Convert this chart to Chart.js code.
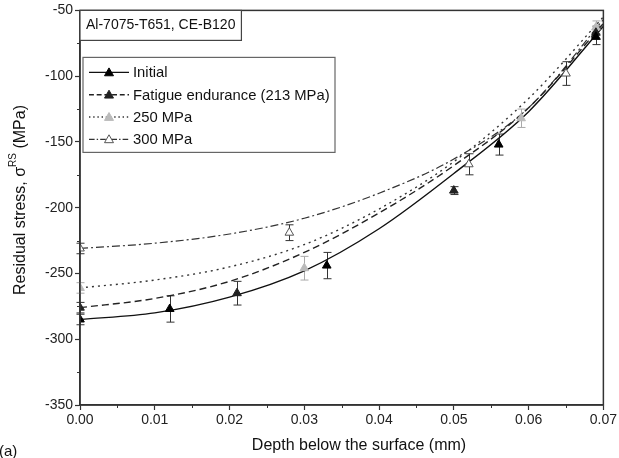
<!DOCTYPE html>
<html><head><meta charset="utf-8">
<script src="https://cdn.jsdelivr.net/npm/chart.js@4.4.1/dist/chart.umd.min.js"></script>
<style>html,body{margin:0;padding:0;background:#fff;overflow:hidden}#wrap{width:619px;height:458px;position:relative}</style>
</head><body><div id="wrap"><canvas id="c" width="619" height="458"></canvas></div>
<script>
// ---- data ----
const seriesNames = ['Initial', 'Fatigue endurance (213 MPa)', '250 MPa', '300 MPa'];
const fitDepth = [0, 0.01, 0.02, 0.03, 0.04, 0.05, 0.06, 0.07];
const fitInitial = [-285, -280, -268, -248, -216, -174, -127, -62];
const fitFatigue = [-276, -269, -256, -234, -204, -168, -124, -60];
const fit250 = [-261, -255, -245, -228, -201, -165, -117, -55];
const fit300 = [-231, -227, -220, -208, -189, -163, -124, -57];

const initialDepth = [0, 0.012, 0.033, 0.056, 0.069];
const initialStress = [-285, -277, -244, -152, -70];
const initialErr = [4, 10, 10, 8, 6];
const fatigueDepth = [0, 0.021, 0.050, 0.069];
const fatigueStress = [-276, -265, -187, -67];
const fatigueErr = [4, 9, 3, 5];
const s250Depth = [0, 0.030, 0.059, 0.069];
const s250Stress = [-261, -246, -132, -63];
const s250Err = [4, 9, 7, 5];
const s300Depth = [0, 0.028, 0.052, 0.065];
const s300Stress = [-231, -219, -167, -98];
const s300Err = [4, 6, 8, 9];

const xTickValues = [0, 0.01, 0.02, 0.03, 0.04, 0.05, 0.06, 0.07];
const yTickValues = [-350, -300, -250, -200, -150, -100, -50];
const boxLabel = 'Al-7075-T651, CE-B120';
const xTitle = 'Depth below the surface (mm)';
const panelLabel = '(a)';

// ---- styles ----
const FONT = '"Liberation Sans", Arial, sans-serif';
const styles = [
  {line: '#111', dash: [], marker: '#000', stroke: '#000', lw: 1.4},
  {line: '#222', dash: [7, 4], marker: '#222', stroke: '#222', lw: 1.4},
  {line: '#333', dash: [2, 4], marker: '#bbb', stroke: '#bbb', lw: 1.4},
  {line: '#333', dash: [8, 3, 2, 3], marker: '#fff', stroke: '#555', lw: 1.2}
];
const fits = [fitInitial, fitFatigue, fit250, fit300];
const pts = [[initialDepth, initialStress, initialErr], [fatigueDepth, fatigueStress, fatigueErr],
             [s250Depth, s250Stress, s250Err], [s300Depth, s300Stress, s300Err]];

const datasets = [];
fits.forEach((f, i) => {
  datasets.push({
    label: seriesNames[i] + ' fit',
    data: fitDepth.map((x, k) => ({x, y: f[k]})),
    showLine: true, pointRadius: 0, borderColor: styles[i].line, borderWidth: styles[i].lw,
    borderDash: styles[i].dash, cubicInterpolationMode: 'monotone', order: 2, fill: false
  });
});
pts.forEach((p, i) => {
  datasets.push({
    label: seriesNames[i],
    data: p[0].map((x, k) => ({x, y: p[1][k]})),
    errs: p[2], errColor: i === 2 ? '#aaa' : '#333',
    showLine: false, pointStyle: 'triangle', pointRadius: 5, pointHoverRadius: 5,
    backgroundColor: styles[i].marker, borderColor: styles[i].stroke, borderWidth: 1, order: 0
  });
});

const deco = {
  id: 'deco',
  beforeDatasetsDraw(chart) {
    const ctx = chart.ctx, xs = chart.scales.x, ys = chart.scales.y;
    ctx.save();
    chart.data.datasets.forEach(ds => {
      if (!ds.errs) return;
      ctx.strokeStyle = ds.errColor; ctx.lineWidth = 1;
      ds.data.forEach((d, k) => {
        const e = ds.errs[k];
        const px = Math.round(xs.getPixelForValue(d.x)) + 0.5;
        const y1 = ys.getPixelForValue(d.y + e), y2 = ys.getPixelForValue(d.y - e);
        ctx.beginPath();
        ctx.moveTo(px, y1); ctx.lineTo(px, y2);
        ctx.moveTo(px - 4, y1); ctx.lineTo(px + 4, y1);
        ctx.moveTo(px - 4, y2); ctx.lineTo(px + 4, y2);
        ctx.stroke();
      });
    });
    ctx.restore();
  },
  afterDraw(chart) {
    const ctx = chart.ctx, a = chart.chartArea, xs = chart.scales.x, ys = chart.scales.y;
    ctx.save();
    // frame
    ctx.strokeStyle = '#333'; ctx.lineWidth = 1.5;
    ctx.strokeRect(a.left, a.top, a.right - a.left, a.bottom - a.top);
    // minor ticks
    ctx.lineWidth = 1;
    for (let i = 0; i < yTickValues.length - 1; i++) {
      const py = Math.round(ys.getPixelForValue((yTickValues[i] + yTickValues[i + 1]) / 2)) + 0.5;
      ctx.beginPath(); ctx.moveTo(a.left - 3, py); ctx.lineTo(a.left, py); ctx.stroke();
    }
    for (let i = 0; i < xTickValues.length - 1; i++) {
      const px = Math.round(xs.getPixelForValue((xTickValues[i] + xTickValues[i + 1]) / 2)) + 0.5;
      ctx.beginPath(); ctx.moveTo(px, a.bottom); ctx.lineTo(px, a.bottom + 3); ctx.stroke();
    }
    // material box
    ctx.font = '14px ' + FONT;
    const bw = ctx.measureText(boxLabel).width + 12;
    ctx.fillStyle = '#fff';
    ctx.fillRect(a.left, a.top, bw, 30);
    ctx.strokeStyle = '#444'; ctx.lineWidth = 1.2;
    ctx.strokeRect(a.left, a.top, bw, 30);
    ctx.fillStyle = '#111'; ctx.textBaseline = 'middle'; ctx.textAlign = 'left';
    ctx.fillText(boxLabel, a.left + 6, a.top + 15);
    // legend
    const lx = a.left + 3, ly = a.top + 47, lw = 252, lh = 95;
    ctx.fillStyle = '#fff'; ctx.fillRect(lx, ly, lw, lh);
    ctx.strokeStyle = '#666'; ctx.lineWidth = 1.2; ctx.strokeRect(lx, ly, lw, lh);
    seriesNames.forEach((n, i) => {
      const ry = ly + 15 + i * 22.3;
      const st = styles[i];
      ctx.strokeStyle = st.line; ctx.lineWidth = st.lw; ctx.setLineDash(st.dash.length ? st.dash.map(v => v * 0.7) : []);
      ctx.beginPath(); ctx.moveTo(lx + 6, ry); ctx.lineTo(lx + 46, ry); ctx.stroke();
      ctx.setLineDash([]);
      const cx = lx + 26, r = 4.5;
      ctx.beginPath();
      ctx.moveTo(cx, ry - r); ctx.lineTo(cx + r, ry + r * 0.75); ctx.lineTo(cx - r, ry + r * 0.75); ctx.closePath();
      ctx.fillStyle = st.marker; ctx.fill();
      ctx.strokeStyle = st.stroke; ctx.lineWidth = 1; ctx.stroke();
      ctx.fillStyle = '#111'; ctx.font = '14.8px ' + FONT;
      ctx.fillText(n, lx + 50, ry + 1);
    });
    // x title
    ctx.font = '16px ' + FONT; ctx.textAlign = 'center'; ctx.fillStyle = '#111';
    ctx.fillText(xTitle, 359, 446);
    // panel label
    ctx.font = '15px ' + FONT;
    ctx.textAlign = 'left'; ctx.fillText(panelLabel, -1, 452);
    // y title with superscript
    ctx.translate(21, 200); ctx.rotate(-Math.PI / 2);
    const p1 = 'Residual stress, \u03C3', p2 = 'RS', p3 = ' (MPa)';
    ctx.font = '16px ' + FONT;
    const w1 = ctx.measureText(p1).width, w3 = ctx.measureText(p3).width;
    ctx.font = '10px ' + FONT; const w2 = ctx.measureText(p2).width;
    let x0 = -(w1 + w2 + w3) / 2;
    ctx.font = '16px ' + FONT; ctx.textAlign = 'left';
    ctx.fillText(p1, x0, 0);
    ctx.font = '10px ' + FONT; ctx.fillText(p2, x0 + w1, -8);
    ctx.font = '16px ' + FONT; ctx.fillText(p3, x0 + w1 + w2, 0);
    ctx.restore();
  }
};

new Chart(document.getElementById('c'), {
  type: 'scatter',
  data: {datasets},
  options: {
    responsive: false, animation: false, events: [],
    layout: {padding: {top: 8, right: 13, left: 0, bottom: 0}},
    plugins: {legend: {display: false}, tooltip: {enabled: false}},
    scales: {
      x: {
        type: 'linear', min: 0, max: 0.07,
        afterBuildTicks: s => { s.ticks = xTickValues.map(v => ({value: v})); },
        afterFit: s => { s.height = 53; },
        ticks: {callback: v => Number(v).toFixed(2), font: {family: FONT, size: 14}, color: '#222', padding: 2, maxRotation: 0, autoSkip: false},
        grid: {drawOnChartArea: false, tickLength: 5, tickColor: '#333', tickWidth: 1.2},
        border: {color: '#333', width: 1.5}
      },
      y: {
        min: -350, max: -50,
        afterBuildTicks: s => { s.ticks = yTickValues.map(v => ({value: v})); },
        afterFit: s => { s.width = 80; },
        ticks: {font: {family: FONT, size: 14}, color: '#222', padding: 2, autoSkip: false},
        grid: {drawOnChartArea: false, tickLength: 5, tickColor: '#333', tickWidth: 1.2},
        border: {color: '#333', width: 1.5}
      }
    }
  },
  plugins: [deco]
});
</script></body></html>
